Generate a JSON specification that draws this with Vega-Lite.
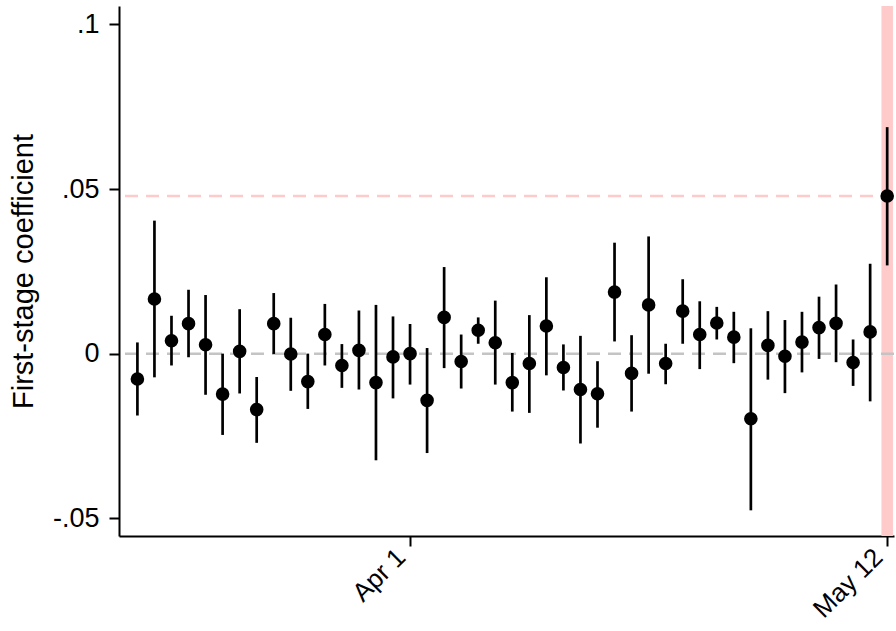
{
  "$schema": "https://vega.github.io/schema/vega-lite/v6.json",
  "autosize": {"type": "none"},
  "padding": {"left": 119, "top": 6, "right": 2, "bottom": 95},
  "width": 775,
  "height": 530,
  "background": "white",
  "config": {
    "view": {"stroke": null},
    "font": "Liberation Sans",
    "axis": {
      "grid": false,
      "domainColor": "black",
      "domainWidth": 2,
      "tickColor": "black",
      "tickWidth": 2,
      "tickSize": 10,
      "labelColor": "black",
      "labelFont": "Liberation Sans",
      "labelFontSize": 27,
      "titleColor": "black",
      "titleFont": "Liberation Sans",
      "titleFontWeight": "normal"
    }
  },
  "datasets": {
    "estimates": [
      {"i": -16, "date": "2020-03-10", "est": -0.0077, "lo": -0.0188, "hi": 0.0034},
      {"i": -15, "date": "2020-03-11", "est": 0.0166, "lo": -0.0072, "hi": 0.0404},
      {"i": -14, "date": "2020-03-12", "est": 0.0039, "lo": -0.0036, "hi": 0.0115},
      {"i": -13, "date": "2020-03-13", "est": 0.0091, "lo": -0.0011, "hi": 0.0194},
      {"i": -12, "date": "2020-03-16", "est": 0.0027, "lo": -0.0125, "hi": 0.0178},
      {"i": -11, "date": "2020-03-17", "est": -0.0123, "lo": -0.0247, "hi": 0.0000},
      {"i": -10, "date": "2020-03-18", "est": 0.0007, "lo": -0.0121, "hi": 0.0135},
      {"i": -9, "date": "2020-03-19", "est": -0.0170, "lo": -0.0271, "hi": -0.0071},
      {"i": -8, "date": "2020-03-20", "est": 0.0091, "lo": -0.0001, "hi": 0.0184},
      {"i": -7, "date": "2020-03-23", "est": -0.0001, "lo": -0.0113, "hi": 0.0109},
      {"i": -6, "date": "2020-03-24", "est": -0.0085, "lo": -0.0168, "hi": 0.0000},
      {"i": -5, "date": "2020-03-25", "est": 0.0058, "lo": -0.0036, "hi": 0.0151},
      {"i": -4, "date": "2020-03-26", "est": -0.0036, "lo": -0.0104, "hi": 0.0029},
      {"i": -3, "date": "2020-03-27", "est": 0.0010, "lo": -0.0109, "hi": 0.0131},
      {"i": -2, "date": "2020-03-30", "est": -0.0088, "lo": -0.0324, "hi": 0.0148},
      {"i": -1, "date": "2020-03-31", "est": -0.0010, "lo": -0.0136, "hi": 0.0113},
      {"i": 0, "date": "2020-04-01", "est": 0.0000, "lo": -0.0094, "hi": 0.0090},
      {"i": 1, "date": "2020-04-02", "est": -0.0142, "lo": -0.0302, "hi": 0.0017},
      {"i": 2, "date": "2020-04-03", "est": 0.0110, "lo": -0.0044, "hi": 0.0263},
      {"i": 3, "date": "2020-04-06", "est": -0.0024, "lo": -0.0106, "hi": 0.0058},
      {"i": 4, "date": "2020-04-07", "est": 0.0071, "lo": 0.0030, "hi": 0.0110},
      {"i": 5, "date": "2020-04-08", "est": 0.0033, "lo": -0.0094, "hi": 0.0161},
      {"i": 6, "date": "2020-04-09", "est": -0.0088, "lo": -0.0176, "hi": 0.0002},
      {"i": 7, "date": "2020-04-13", "est": -0.0030, "lo": -0.0180, "hi": 0.0117},
      {"i": 8, "date": "2020-04-14", "est": 0.0084, "lo": -0.0066, "hi": 0.0232},
      {"i": 9, "date": "2020-04-15", "est": -0.0042, "lo": -0.0112, "hi": 0.0028},
      {"i": 10, "date": "2020-04-16", "est": -0.0109, "lo": -0.0273, "hi": 0.0054},
      {"i": 11, "date": "2020-04-17", "est": -0.0122, "lo": -0.0225, "hi": -0.0023},
      {"i": 12, "date": "2020-04-20", "est": 0.0187, "lo": 0.0037, "hi": 0.0337},
      {"i": 13, "date": "2020-04-21", "est": -0.0060, "lo": -0.0176, "hi": 0.0056},
      {"i": 14, "date": "2020-04-22", "est": 0.0148, "lo": -0.0061, "hi": 0.0356},
      {"i": 15, "date": "2020-04-23", "est": -0.0030, "lo": -0.0093, "hi": 0.0030},
      {"i": 16, "date": "2020-04-24", "est": 0.0129, "lo": 0.0030, "hi": 0.0226},
      {"i": 17, "date": "2020-04-27", "est": 0.0058, "lo": -0.0047, "hi": 0.0159},
      {"i": 18, "date": "2020-04-28", "est": 0.0093, "lo": 0.0043, "hi": 0.0142},
      {"i": 19, "date": "2020-04-29", "est": 0.0050, "lo": -0.0029, "hi": 0.0127},
      {"i": 20, "date": "2020-04-30", "est": -0.0198, "lo": -0.0476, "hi": 0.0077},
      {"i": 21, "date": "2020-05-01", "est": 0.0025, "lo": -0.0079, "hi": 0.0129},
      {"i": 22, "date": "2020-05-04", "est": -0.0008, "lo": -0.0120, "hi": 0.0102},
      {"i": 23, "date": "2020-05-05", "est": 0.0035, "lo": -0.0057, "hi": 0.0127},
      {"i": 24, "date": "2020-05-06", "est": 0.0079, "lo": -0.0016, "hi": 0.0173},
      {"i": 25, "date": "2020-05-07", "est": 0.0092, "lo": -0.0026, "hi": 0.0210},
      {"i": 26, "date": "2020-05-08", "est": -0.0027, "lo": -0.0098, "hi": 0.0043},
      {"i": 27, "date": "2020-05-11", "est": 0.0066, "lo": -0.0145, "hi": 0.0273},
      {"i": 28, "date": "2020-05-12", "est": 0.0479, "lo": 0.0268, "hi": 0.0688}
    ]
  },
  "data": {"name": "estimates"},
  "encoding": {
    "x": {
      "field": "i",
      "type": "quantitative",
      "scale": {"domain": [-17.08, 28.4], "nice": false, "zero": false},
      "axis": {
        "title": null,
        "values": [0, 28],
        "labelExpr": "datum.value == 0 ? 'Apr 1' : 'May 12'",
        "labelAngle": -45,
        "labelAlign": "right",
        "labelBaseline": "bottom",
        "labelFontSize": 26,
        "labelPadding": 16,
        "labelFlush": false,
        "labelBound": false,
        "labelOverlap": false
      }
    }
  },
  "layer": [
    {
      "transform": [{"filter": "datum.i == 28"}],
      "mark": {"type": "rule", "color": "#ffcaca", "strokeWidth": 11.5},
      "encoding": {}
    },
    {
      "transform": [{"filter": "datum.i == 28"}],
      "mark": {"type": "rule", "color": "#c4c4c4", "strokeWidth": 2.5, "strokeDash": [13, 8]},
      "encoding": {
        "x": null,
        "y": {"datum": 0, "type": "quantitative"}
      }
    },
    {
      "transform": [{"filter": "datum.i == 28"}],
      "mark": {"type": "rule", "color": "#ffcaca", "strokeWidth": 2.5, "strokeDash": [13, 8]},
      "encoding": {
        "x": null,
        "y": {"field": "est", "type": "quantitative"}
      }
    },
    {
      "mark": {"type": "rule", "color": "black", "strokeWidth": 2.7},
      "encoding": {
        "y": {
          "field": "lo",
          "type": "quantitative",
          "scale": {"domain": [-0.0554, 0.1056], "nice": false, "zero": false},
          "axis": {
            "title": "First-stage coefficient",
            "titleFontSize": 29,
            "titleX": -87,
            "titleY": 265,
            "titleAngle": -90,
            "titleAlign": "center",
            "titleBaseline": "alphabetic",
            "values": [-0.05, 0, 0.05, 0.1],
            "labelExpr": "datum.value < -0.01 ? '-.05' : datum.value > 0.07 ? '.1' : datum.value > 0.01 ? '.05' : '0'",
            "labelFontSize": 27,
            "labelPadding": 10
          }
        },
        "y2": {"field": "hi"}
      }
    },
    {
      "mark": {"type": "circle", "color": "black", "opacity": 1, "size": 185},
      "encoding": {
        "y": {"field": "est", "type": "quantitative"}
      }
    }
  ]
}
